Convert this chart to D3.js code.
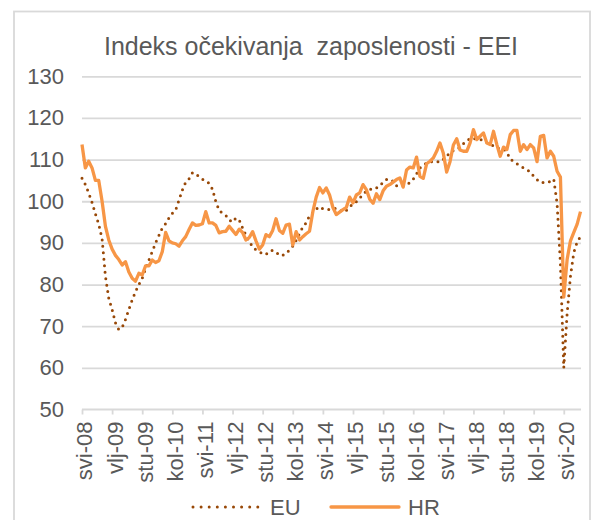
<!DOCTYPE html>
<html>
<head>
<meta charset="utf-8">
<script src="https://cdn.jsdelivr.net/npm/d3@7"></script>
<style>
  html, body { margin: 0; padding: 0; background: #fff; }
  svg text { font-family: "Liberation Sans", Arial, sans-serif; fill: #595959; }
</style>
</head>
<body>
<svg id="chart" width="592" height="520"></svg>
<script>
// --- Data (monthly, svi-08 .. lis-20)
const monthNames = ["sij", "vlj", "ožu", "tra", "svi", "lip", "srp", "kol", "ruj", "lis", "stu", "pro"]
const startYear = 2008
const startMonth = 4 // svibanj

const hrValues = [
  113.6, 108, 109.6, 108, 105, 105, 100, 94, 90.7, 88.5,
  87, 86, 84.7, 85.5, 83, 81.5, 80.8, 82.7, 82.3, 84.5,
  84.5, 85.9, 85.3, 85.7, 87.9, 92.5, 90.5, 90, 89.8, 89.2,
  90.5, 91.5, 93.2, 94.8, 94.2, 94.3, 94.6, 97.5, 94.8, 94.8,
  94.2, 92.4, 92.7, 92.8, 94, 93, 92, 93.3, 92.5, 90.7,
  91.3, 92.7, 90.5, 88.5, 89.5, 92, 91.5, 93, 95.8, 93,
  92.3, 94.3, 94.5, 89.5, 92.7, 90.7, 91.5, 92.2, 92.8, 97.5,
  101, 103.3, 102, 103.2, 101.5, 98.5, 96.8, 97.4, 98, 98.5,
  101, 99.6, 101.5, 102, 104, 102.8, 100.5, 99.5, 101.8, 100.4,
  102.5, 103.6, 104, 104.6, 105.2, 105.6, 103.4, 107.5, 108.2, 108,
  110.6, 106, 105.5, 109, 109.6, 110.4, 112, 114, 111.5, 107,
  109.5, 113.5, 115, 112.3, 112, 112, 114, 117.2, 114.8, 115.6,
  116.4, 114, 113.6, 116.8, 113.6, 110.8, 113, 112.4, 116, 117,
  117, 112, 113.6, 112.4, 113.6, 112.8, 109.5, 115.6, 115.8, 110.4,
  112, 110.8, 107.2, 105.8, 77, 86, 90.5, 92.5, 94.5, 97.5
]

const euValues = [
  105.5, 104, 102, 99.7, 97, 94.5, 91, 82, 76.7, 74,
  70.8, 69.2, 69.7, 71.6, 74, 76.3, 78.3, 80, 81.5, 83.8,
  85.9, 87.9, 90, 91.8, 93.6, 94.6, 96, 97.1, 97.9, 100.3,
  102.7, 104.6, 105.4, 106.8, 106.7, 105.8, 105.3, 104.9, 104.3, 102.9,
  99.9, 97.8, 97.1, 96.6, 95.5, 95, 96, 95.5, 93.6, 91.8,
  90.3, 89.1, 88.3, 87.9, 87.4, 87.2, 88, 88.2, 87.8, 87,
  87, 87.5, 88.3, 89.2, 90.6, 92.2, 93.8, 94.8, 96.5, 97.2,
  98.1, 98.7, 98.2, 98, 98, 98.1, 98.3, 98, 97.4, 97.8,
  98.7, 99.3, 99.9, 100.8, 101.6, 102.5, 102.9, 102.8, 103.2, 103.6,
  104.6, 105.2, 105.3, 104.8, 103.7, 103.6, 103.7, 103.9, 104.5, 105.3,
  106.6, 108, 108.6, 109.2, 109.4, 109.6, 109.5, 109.4, 110.1, 110.8,
  111.7, 112.2, 112.4, 113, 113.8, 114.4, 115.1, 115.1, 114.9, 114.8,
  114.6, 114.1, 113.6, 113.3, 112.8, 112.6, 112.5, 111.8, 110.1, 109.6,
  109, 108.5, 108, 107.6, 107, 106, 105.2, 104.5, 104.5, 104.5,
  104.8, 105.3, 99.5, 85, 60, 73, 82, 87.7, 90.2, 91.5
]

const yTicks = [50, 60, 70, 80, 90, 100, 110, 120, 130]
const labelEvery = 9

const categories = hrValues.map((_, i) => {
  const m = startMonth + i
  const yy = String((startYear + Math.floor(m / 12)) % 100).padStart(2, "0")
  return `${monthNames[m % 12]}-${yy}`
})

const series = [
  { name: "EU", values: euValues, color: "#984807", dotted: true },
  { name: "HR", values: hrValues, color: "#F79646", dotted: false }
]

// --- Layout
const svg = d3.select("#chart")
const plotLeft = 82, plotRight = 581, plotTop = 76.3, plotBottom = 409.5

const x = d3.scaleLinear().domain([0, categories.length - 1]).range([plotLeft, 580.5])
const y = d3.scaleLinear().domain([50, 130]).range([plotBottom, plotTop])

// chart frame
svg.append("rect")
  .attr("x", 14).attr("y", 11.5)
  .attr("width", 576).attr("height", 530)
  .attr("fill", "none")
  .attr("stroke", "#D9D9D9")
  .attr("stroke-width", 1.8)

svg.append("text")
  .attr("x", 311)
  .attr("y", 55)
  .attr("text-anchor", "middle")
  .attr("font-size", 25)
  .style("white-space", "pre")
  .text("Indeks očekivanja  zaposlenosti - EEI")

// gridlines + y labels
const yAxis = d3.axisLeft(y).tickValues(yTicks).tickSize(-(plotRight - plotLeft)).tickPadding(18)
const gy = svg.append("g").attr("transform", `translate(${plotLeft},0)`).call(yAxis)
gy.select(".domain").remove()
gy.selectAll(".tick line")
  .attr("stroke", "#D9D9D9")
  .attr("stroke-width", 1.8)
  .attr("stroke-opacity", d => d === 50 ? 0 : 1)
gy.selectAll(".tick text")
  .attr("font-size", 22)
  .attr("fill", "#595959")
  .attr("font-family", "Liberation Sans, Arial, sans-serif")

// x axis
const tickIdx = d3.range(0, categories.length, labelEvery)
const xAxis = d3.axisBottom(x).tickValues(tickIdx).tickSize(5).tickFormat(i => categories[i])
const gx = svg.append("g").attr("transform", `translate(0,${plotBottom})`).call(xAxis)
gx.select(".domain")
  .attr("d", `M${plotLeft},0H${plotRight}`)
  .attr("stroke", "#D9D9D9")
  .attr("stroke-width", 1.8)
gx.selectAll(".tick line").attr("stroke", "#D9D9D9").attr("stroke-width", 1.8)
gx.selectAll(".tick text")
  .attr("font-size", 22)
  .attr("fill", "#595959")
  .attr("font-family", "Liberation Sans, Arial, sans-serif")
  .attr("text-anchor", "end")
  .attr("transform", "rotate(-90)")
  .attr("x", -12)
  .attr("y", 0)
  .attr("dy", "0.45em")

// lines
const line = d3.line().x((d, i) => x(i)).y(d => y(d))

series.forEach(s => {
  const p = svg.append("path")
    .datum(s.values)
    .attr("d", line)
    .attr("fill", "none")
    .attr("stroke", s.color)
    .attr("stroke-linejoin", "round")
  if (s.dotted) {
    p.attr("stroke-width", 3)
      .attr("stroke-dasharray", "0 6.5")
      .attr("stroke-linecap", "round")
  } else {
    p.attr("stroke-width", 3.3)
  }
})

// legend
const legendY = 507
const legendItems = [
  { s: series[0], x0: 193, x1: 258, tx: 270 },
  { s: series[1], x0: 331, x1: 399, tx: 408 }
]
legendItems.forEach(it => {
  const l = svg.append("line")
    .attr("x1", it.x0).attr("x2", it.x1)
    .attr("y1", legendY).attr("y2", legendY)
    .attr("stroke", it.s.color)
  if (it.s.dotted) {
    l.attr("stroke-width", 3).attr("stroke-dasharray", "0 8.1").attr("stroke-linecap", "round")
  } else {
    l.attr("stroke-width", 3.3).attr("stroke-linecap", "round")
  }
  svg.append("text")
    .attr("x", it.tx)
    .attr("y", legendY + 8)
    .attr("font-size", 22)
    .text(it.s.name)
})
</script>
</body>
</html>
